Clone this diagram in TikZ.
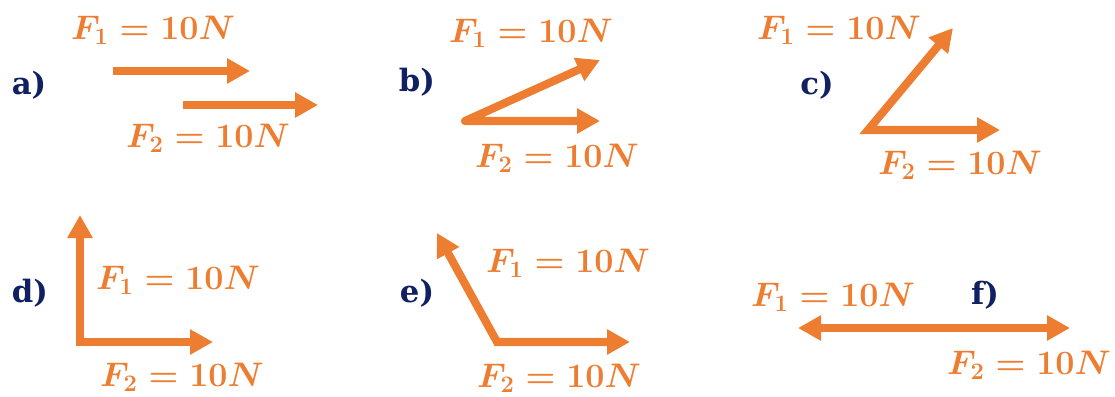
\documentclass[tikz,border=0pt]{standalone}
\usepackage{amsmath}
\usepackage{fontspec}
\newfontfamily\casefont{DejaVu Serif}
\usetikzlibrary{arrows.meta}
\definecolor{forceorange}{HTML}{ED7D31}
\definecolor{labelnavy}{HTML}{102060}
\newcommand\forcelabel[1]{\scalebox{0.935}{$F_{#1} = 10N$}}

\begin{document}
\begin{tikzpicture}[x=0.02cm, y=-0.02cm,
  force/.style={line width=4.6pt, forceorange, -{Triangle[length=0.46cm, width=0.48cm]}},
  pair/.style={line width=4.6pt, forceorange,
    {Triangle[length=0.46cm, width=0.48cm]}-{Triangle[length=0.46cm, width=0.48cm]}},
  flabel/.style={forceorange, inner sep=0pt, font=\fontsize{20.74}{24}\selectfont\boldmath},
  case/.style={labelnavy, inner sep=0pt, font=\fontsize{17.5}{21}\selectfont\casefont\bfseries}]
  % picture frame (pixel units of the reference)
  \useasboundingbox (0,0) rectangle (1115,396);

  % 1. case a): two parallel forces, shifted
  \node[case] (la) at (29,85) {a)};
  \node[flabel] (fa1) at (153,30) {\forcelabel{1}};
  \node[flabel] (fa2) at (208,138) {\forcelabel{2}};
  \coordinate (a1s) at (113,71);  \coordinate (a1e) at (250,71);
  \coordinate (a2s) at (183,105); \coordinate (a2e) at (318,105);
  \draw[force] (a1s) -- (a1e);
  \draw[force] (a2s) -- (a2e);

  % 2. case b): small angle
  \node[case] (lb) at (417,82) {b)};
  \node[flabel] (fb1) at (531,33) {\forcelabel{1}};
  \node[flabel] (fb2) at (557,158) {\forcelabel{2}};
  \coordinate (b0) at (465,121);
  \coordinate (b1) at (600,60);
  \coordinate (b2) at (600,121);
  \draw[pair, line join=round] (b1) -- (b0) -- (b2);

  % 3. case c): acute angle
  \node[case] (lc) at (817,85) {c)};
  \node[flabel] (fc1) at (839,30) {\forcelabel{1}};
  \node[flabel] (fc2) at (960,165) {\forcelabel{2}};
  \coordinate (c0) at (868,130);
  \coordinate (c1) at (953,28);
  \coordinate (c2) at (1000,130);
  \draw[pair] (c1) -- (c0) -- (c2);

  % 4. case d): right angle
  \node[case] (ld) at (30,293) {d)};
  \node[flabel] (fd1) at (178,280) {\forcelabel{1}};
  \node[flabel] (fd2) at (182,377) {\forcelabel{2}};
  \coordinate (d0) at (80,342);
  \coordinate (d1) at (80,215);
  \coordinate (d2) at (213,342);
  \draw[pair] (d1) -- (d0) -- (d2);

  % 5. case e): obtuse angle
  \node[case] (le) at (417,293) {e)};
  \node[flabel] (fe1) at (568,263) {\forcelabel{1}};
  \node[flabel] (fe2) at (559,378) {\forcelabel{2}};
  \coordinate (e0) at (497,342);
  \coordinate (e1) at (437,233);
  \coordinate (e2) at (630,342);
  \draw[pair] (e1) -- (e0) -- (e2);

  % 6. case f): opposite forces
  \node[case] (lf) at (985,295) {f)};
  \node[flabel] (ff1) at (833,297) {\forcelabel{1}};
  \node[flabel] (ff2) at (1029,365) {\forcelabel{2}};
  \coordinate (f1) at (798,328);
  \coordinate (f2) at (1070,328);
  \draw[pair] (f1) -- (f2);
\end{tikzpicture}
\end{document}
